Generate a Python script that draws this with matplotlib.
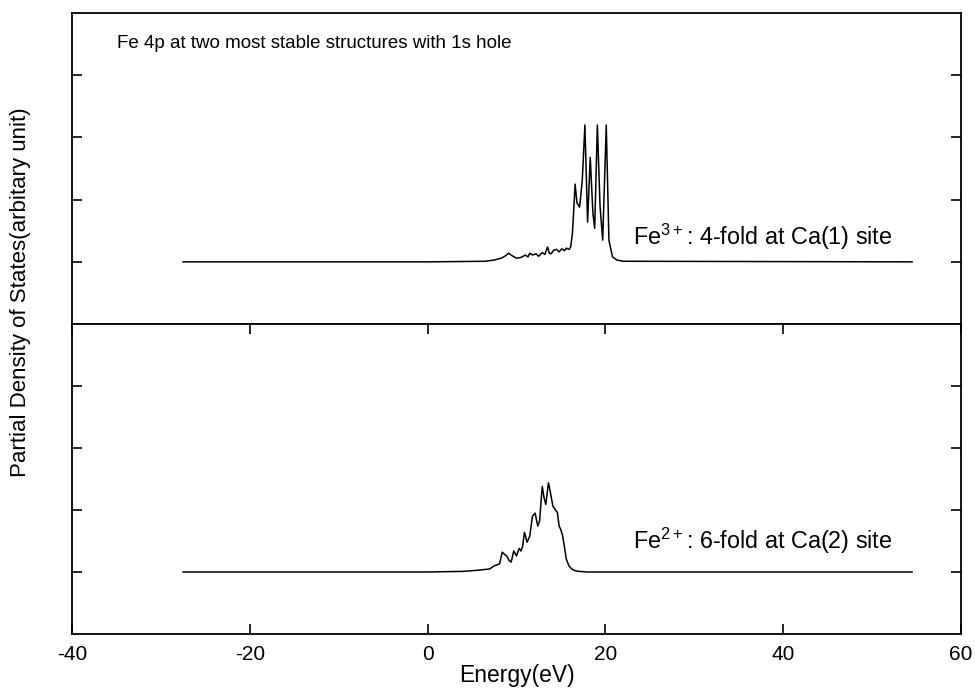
import matplotlib
matplotlib.use("Agg")
import matplotlib.pyplot as plt

plt.rcParams['font.family'] = ['Liberation Sans', 'DejaVu Sans']
plt.rcParams['mathtext.fontset'] = 'custom'
plt.rcParams['mathtext.rm'] = 'Liberation Sans'

# Fe 4p PDOS, Fe3+ (4-fold, Ca(1) site)
e_fe3 = [-27.5, 0, 6.5, 7.5, 8.3, 8.8, 9.1, 9.5, 10.0, 10.5, 11.0, 11.3, 11.5, 11.8,
         12.2, 12.5, 12.9, 13.2, 13.5, 13.7, 13.9, 14.2, 14.5, 14.8, 15.1, 15.4, 15.6,
         15.9, 16.1, 16.3, 16.6, 16.8, 17.1, 17.4, 17.7, 18.0, 18.3, 18.6, 18.8, 19.1,
         19.4, 19.7, 20.1, 20.4, 20.8, 21.3, 22.0, 54.5]
pdos_fe3 = [0, 0, 0.01, 0.03, 0.06, 0.1, 0.14, 0.1, 0.06, 0.07, 0.11, 0.08, 0.14, 0.11,
            0.13, 0.09, 0.15, 0.12, 0.24, 0.14, 0.13, 0.19, 0.2, 0.16, 0.21, 0.18, 0.22,
            0.2, 0.24, 0.46, 1.25, 0.95, 0.88, 1.3, 2.2, 0.64, 1.68, 0.78, 0.54, 2.2,
            0.9, 0.35, 2.2, 0.35, 0.08, 0.03, 0.01, 0]

# Fe2+ (6-fold, Ca(2) site)
e_fe2 = [-27.5, 0, 4.0, 5.8, 7.0, 7.5, 8.1, 8.4, 8.7, 8.9, 9.2, 9.4, 9.7, 10.0, 10.3,
         10.5, 10.7, 10.9, 11.2, 11.5, 11.8, 12.1, 12.4, 12.6, 12.9, 13.1, 13.3, 13.6,
         13.8, 14.1, 14.4, 14.6, 14.8, 15.0, 15.2, 15.4, 15.6, 15.9, 16.2, 16.6, 17.0,
         18.0, 54.5]
pdos_fe2 = [0, 0, 0.01, 0.03, 0.05, 0.1, 0.13, 0.32, 0.28, 0.26, 0.18, 0.16, 0.34, 0.26,
            0.38, 0.34, 0.42, 0.64, 0.48, 0.58, 0.9, 0.95, 0.74, 0.82, 1.38, 1.2, 1.09,
            1.44, 1.3, 1.06, 1.0, 0.96, 0.74, 0.68, 0.58, 0.4, 0.21, 0.1, 0.05, 0.02,
            0.01, 0.0, 0]

xticks = [-40, -20, 0, 20, 40, 60]
yticks = [0, 1, 2, 3]

fig = plt.figure(figsize=(9.75, 6.94), dpi=100)
ax1 = fig.add_axes([0.0738, 0.533, 0.9118, 0.4483])
ax2 = fig.add_axes([0.0738, 0.0865, 0.9118, 0.4465])

for ax in (ax1, ax2):
    ax.set_xlim(-40, 60)
    ax.set_ylim(-1, 4)
    ax.set_yticks(yticks)
    ax.set_yticklabels([])
    ax.tick_params(axis='y', direction='in', left=True, right=True, length=7, width=1.2)
    for s in ax.spines.values():
        s.set_linewidth(1.3)

ax1.plot(e_fe3, pdos_fe3, color='black', lw=1.1)
ax2.plot(e_fe2, pdos_fe2, color='black', lw=1.1)

ax1.set_xticks([])
ax2.set_xticks(xticks)
ax2.set_xticklabels([str(t) for t in xticks])
ax2.tick_params(axis='x', direction='in', top=True, bottom=True, length=7, width=1.2,
                labelsize=15, pad=8)

ax1.text(-34.9, 3.44, 'Fe 4p at two most stable structures with 1s hole',
         fontsize=13.5, va='baseline')
ax1.text(23.1, 0.27, r'Fe$^{3+}$: 4-fold at Ca(1) site', fontsize=16.8, va='baseline')
ax2.text(23.1, 0.37, r'Fe$^{2+}$: 6-fold at Ca(2) site', fontsize=16.8, va='baseline')

ax2.set_xlabel('Energy(eV)', fontsize=16.5, labelpad=0)
fig.text(0.021, 0.579, 'Partial Density of States(arbitary unit)', rotation=90,
         fontsize=16, ha='center', va='center')

fig.savefig('out.png', dpi=100)
